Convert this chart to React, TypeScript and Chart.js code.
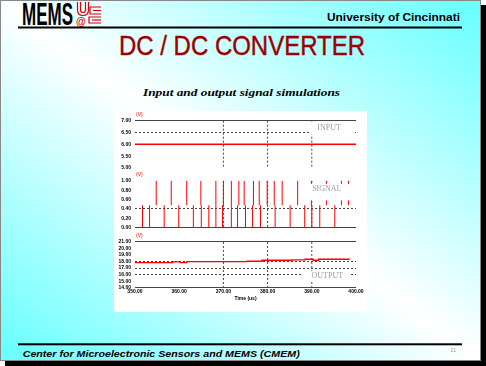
import React, { useEffect, useRef } from "react";
import { Chart, registerables } from "chart.js";
Chart.register(...registerables);

// ---------- data ----------
const xTicks = [350, 360, 370, 380, 390, 400];
const xGrid = [370, 380, 390];

const inputTicks = [7.0, 6.5, 6.0, 5.5, 5.0];
const inputSolid = [7.0];
const inputDashed = [6.5];
const inputTime = [350, 400];
const inputVolts = [6.0, 6.0];

const signalTicks = [1.0, 0.8, 0.6, 0.4, 0.2, 0.0];
const signalSolid = [0.0];
const signalDashed = [0.4];
const upperSpikeTimes = [354.8, 358.2, 361.7, 364.9, 368.3, 370.0, 371.8, 373.5, 374.7, 376.8, 378.1, 379.9, 381.5, 383.3, 386.8, 389.9, 393.3, 396.7, 398.3];
const upperSpikeRange = [0.48, 1.0];
const lowerSpikeTimes = [351.7, 353.3, 356.6, 359.9, 363.2, 365.0, 366.7, 368.3, 369.8, 371.8, 373.2, 375.0, 376.6, 378.4, 381.7, 385.1, 388.4, 390.0, 391.8, 395.2];
const lowerSpikeRange = [0.0, 0.48];

const outputTicks = [21, 20, 19, 18, 17, 16, 15, 14];
const outputSolid = [21, 14];
const outputDashed = [18, 17, 16];
const outputTime = [350, 358.5, 360.2, 361.7, 375.3, 378.7, 385.5, 388.5, 390.3, 391.5, 398.6];
const outputVolts = [17.85, 17.95, 17.85, 18.0, 18.05, 18.2, 18.25, 18.35, 18.2, 18.35, 18.35];

const panelAxes = ["yIn", "ySig", "yOut"];
const panelNames = ["INPUT", "SIGNAL", "OUTPUT"];
const panelNameX = [393.9, 393.4, 393.5];
const panelNameY = [6.71, 0.83, 15.83];
const unitLabel = "(V)";
const xTitle = "Time (us)";

// ---------- helpers ----------
const GRID = "#444";
const RED = "#ff0000";
const TICK_FONT = { family: "'Liberation Sans', Arial, sans-serif", size: 5, weight: "bold" as const };

function spikes(times: number[], range: number[]) {
  return times.flatMap((t) => [
    { x: t, y: range[0] },
    { x: t, y: range[1] },
    { x: t, y: null },
  ]);
}
function vgrid(ticks: number[]) {
  const top = ticks[0];
  const bottom = ticks[ticks.length - 1];
  return xGrid.flatMap((g) => [
    { x: g, y: top },
    { x: g, y: bottom },
    { x: g, y: null },
  ]);
}
function yScale(ticks: number[], solid: number[], dashed: number[], min: number, max: number, weight: number) {
  return {
    type: "linear" as const,
    position: "left" as const,
    stack: "panels",
    stackWeight: weight,
    min,
    max,
    bounds: "data" as const,
    afterBuildTicks: (s: any) => {
      s.ticks = ticks.map((v) => ({ value: v }));
    },
    afterFit: (s: any) => {
      s.width = 21;
      s.paddingTop = 0;
      s.paddingBottom = 0;
    },
    ticks: {
      autoSkip: false,
      padding: 4,
      color: "#000",
      font: TICK_FONT,
      callback: (v: any) => Number(v).toFixed(2),
    },
    grid: {
      drawTicks: false,
      lineWidth: 1,
      color: (c: any) => {
        const v = c.tick ? c.tick.value : NaN;
        return solid.includes(v) || dashed.includes(v) ? GRID : "rgba(0,0,0,0)";
      },
    },
    border: {
      display: false,
      dash: (c: any) => (c.tick && dashed.includes(c.tick.value) ? [2, 2] : []),
    },
  };
}

// label boxes: [left, right, up, down] offsets in px around label centre
const labelBoxes = [
  [-19, 24, 6, 7],
  [-17, 23, 5, 11.5],
  [-25, 22, 5, 5],
];

const panelLabelPlugin = {
  id: "panelLabels",
  afterDatasetsDraw(chart: any) {
    const ctx = chart.ctx;
    const xs = chart.scales.x;
    panelNames.forEach((name, i) => {
      const ys = chart.scales[panelAxes[i]];
      const cx = xs.getPixelForValue(panelNameX[i]);
      const cy = ys.getPixelForValue(panelNameY[i]);
      const b = labelBoxes[i];
      ctx.save();
      ctx.fillStyle = "#ffffff";
      ctx.fillRect(cx + b[0], cy - b[2], b[1] - b[0], b[2] + b[3]);
      ctx.font = "8px 'Liberation Serif', 'Times New Roman', serif";
      ctx.fillStyle = "#9a9a9a";
      ctx.textAlign = "center";
      ctx.textBaseline = "middle";
      ctx.fillText(name, cx, cy);
      const topTick = ys.ticks[0].value;
      ctx.font = "5px 'Liberation Sans', Arial, sans-serif";
      ctx.fillStyle = "#ff0000";
      ctx.textAlign = "left";
      ctx.fillText(unitLabel, chart.chartArea.left + 1, ys.getPixelForValue(topTick) - 6);
      ctx.restore();
    });
  },
};

export default function App() {
  const ref = useRef<HTMLCanvasElement>(null);
  useEffect(() => {
    if (!ref.current) return;
    const gridDs = (axis: string, ticks: number[]) => ({
      data: vgrid(ticks),
      yAxisID: axis,
      borderColor: GRID,
      borderWidth: 1,
      borderDash: [2, 2],
      pointRadius: 0,
      spanGaps: false,
      order: 10,
    });
    const chart = new Chart(ref.current, {
      type: "line",
      data: {
        datasets: [
          {
            data: inputTime.map((t, i) => ({ x: t, y: inputVolts[i] })),
            yAxisID: "yIn",
            borderColor: RED,
            borderWidth: 1.5,
            pointRadius: 0,
            order: 0,
          },
          {
            data: spikes(upperSpikeTimes, upperSpikeRange) as any,
            yAxisID: "ySig",
            borderColor: RED,
            borderWidth: 1,
            pointRadius: 0,
            spanGaps: false,
            order: 0,
          },
          {
            data: spikes(lowerSpikeTimes, lowerSpikeRange) as any,
            yAxisID: "ySig",
            borderColor: RED,
            borderWidth: 1,
            pointRadius: 0,
            spanGaps: false,
            order: 0,
          },
          {
            data: outputTime.map((t, i) => ({ x: t, y: outputVolts[i] })),
            yAxisID: "yOut",
            borderColor: RED,
            borderWidth: 1.3,
            pointRadius: 0,
            stepped: "before",
            order: 0,
          },
          gridDs("yIn", inputTicks) as any,
          gridDs("ySig", signalTicks) as any,
          gridDs("yOut", outputTicks) as any,
        ],
      },
      options: {
        responsive: false,
        maintainAspectRatio: false,
        animation: false,
        events: [],
        layout: { padding: { top: 3, right: 11, bottom: 10.3, left: 0 } },
        plugins: { legend: { display: false }, tooltip: { enabled: false } },
        scales: {
          x: {
            type: "linear",
            min: 350,
            max: 400,
            bounds: "data",
            afterBuildTicks: (s: any) => {
              s.ticks = xTicks.map((v) => ({ value: v }));
            },
            grid: { display: false, drawTicks: false },
            border: { display: false },
            ticks: {
              autoSkip: false,
              maxRotation: 0,
              padding: 1,
              color: "#000",
              font: TICK_FONT,
              callback: (v: any) => Number(v).toFixed(2),
            },
            title: {
              display: true,
              text: xTitle,
              color: "#000",
              padding: { top: 0, bottom: 0 },
              font: { family: "'Liberation Sans', Arial, sans-serif", size: 5, weight: "bold", lineHeight: 1.2 },
            },
          },
          yOut: yScale(outputTicks, outputSolid, outputDashed, 14, 21.94, 52.2),
          ySig: yScale(signalTicks, signalSolid, signalDashed, -0.1745, 1.134, 61.5),
          yIn: yScale(inputTicks, inputSolid, inputDashed, 4.7185, 7.2815, 61),
        } as any,
      },
      plugins: [panelLabelPlugin],
    } as any);
    return () => chart.destroy();
  }, []);

  const sans = "'Liberation Sans', Arial, sans-serif";
  const serif = "'Liberation Serif', 'Times New Roman', serif";
  return (
    <div style={{ position: "fixed", left: 0, top: 0, width: 486, height: 366, overflow: "hidden", background: "#fff" }}>
      <svg width={486} height={366} style={{ position: "absolute", left: 0, top: 0 }}>
        <defs>
          <linearGradient id="bg" x1="1" y1="0" x2="0" y2="1">
            <stop offset="0" stopColor="#66ffff" />
            <stop offset="0.5" stopColor="#ffffff" />
            <stop offset="1" stopColor="#66ffff" />
          </linearGradient>
        </defs>
        <rect x={5} y={5} width={481} height={361} fill="#000" />
        <rect x={0.5} y={0.5} width={480} height={360} fill="url(#bg)" stroke="#888" strokeWidth={1} />
        <text x={22} y={25} fontFamily={sans} fontWeight="bold" fontSize={30.7} fill="#000" textLength={51} lengthAdjust="spacingAndGlyphs">MEMS</text>
        <g fill="none" stroke="#e00000" strokeWidth={1.2}>
          <path d="M77.5,2 V10 Q77.5,15.5 83,15.5 Q88.5,15.5 88.5,10 V2" />
          <path d="M80.5,2 V10 Q80.5,12.5 83,12.5 Q85.5,12.5 85.5,10 V2" />
          <path d="M101,7 H90 V14 H101" />
          <path d="M101,10.5 H93" />
          <path d="M101,17 H89 V23 H101" />
          <path d="M101,20 H92" />
        </g>
        <text x={76} y={25} fontFamily={sans} fontWeight="bold" fontSize={10} fill="#e00000">@</text>
        <text x={327} y={20.7} fontFamily={sans} fontWeight="bold" fontSize={11.2} fill="#000" textLength={133} lengthAdjust="spacingAndGlyphs">University of Cincinnati</text>
        <rect x={18} y={26.5} width={444} height={2} fill="#000" />
        <text x={119} y={55} fontFamily={sans} fontSize={28} fill="#9c0000" stroke="#9c0000" strokeWidth={0.4} textLength={246} lengthAdjust="spacingAndGlyphs">DC / DC CONVERTER</text>
        <text x={143} y={95.5} fontFamily={serif} fontWeight="bold" fontStyle="italic" fontSize={11} fill="#000" textLength={197} lengthAdjust="spacingAndGlyphs">Input and output signal simulations</text>
        <rect x={18} y={343.3} width={444} height={2} fill="#000" />
        <text x={22.7} y={356.5} fontFamily={sans} fontWeight="bold" fontStyle="italic" fontSize={9.8} fill="#000" textLength={277} lengthAdjust="spacingAndGlyphs">Center for Microelectronic Sensors and MEMS (CMEM)</text>
        <text x={450.5} y={351.7} fontFamily={sans} fontSize={5} fill="#999">21</text>
      </svg>
      <div style={{ position: "absolute", left: 114, top: 111, width: 253, height: 201, background: "#fff" }}>
        <canvas ref={ref} width={253} height={201} style={{ display: "block", width: 253, height: 201 }} />
      </div>
    </div>
  );
}
